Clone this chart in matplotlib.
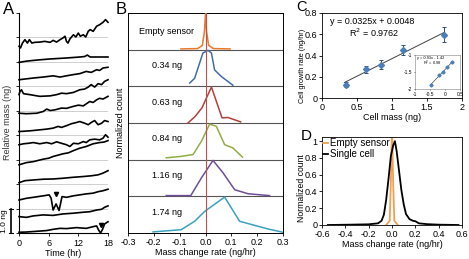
import numpy as np
import matplotlib
matplotlib.use("Agg")
import matplotlib.pyplot as plt
from matplotlib.ticker import FormatStrFormatter

plt.rcParams['font.family'] = ['Liberation Sans', 'DejaVu Sans']
plt.rcParams['axes.unicode_minus'] = False
plt.rcParams['font.size'] = 6.5

# ---------------- Panel A: mass traces (hr, ng) ----------------
trace_hr = [
    [0, 0.3, 0.7, 1.2, 1.7, 2.1, 2.6, 3.2, 4.2, 5.2, 6.3, 6.9, 7.6, 8.3, 8.9, 9.3, 9.6, 9.9, 10.3, 11.0, 11.5, 12.0, 12.4, 13.0, 13.5, 14.0, 14.4, 15.0, 15.7, 16.3, 17.0, 17.5, 18],
    [0, 1.5, 2.9, 4.5, 6.3, 8.0, 9.6, 11.0, 12.3, 13.3, 13.8, 14.4, 16.0, 18],
    [0, 2.9, 4.9, 6.9, 8.3, 9.6, 11.0, 12.3, 13.6, 14.6, 15.7, 16.3, 17.0, 18],
    [0, 0.2, 0.5, 0.9, 2.2, 4.2, 6.3, 7.6, 8.6, 9.6, 11.0, 12.3, 13.3, 14.0, 14.6, 15.3, 16.0, 16.7, 17.3, 18],
    [0, 1.5, 3.6, 4.9, 5.6, 6.3, 7.3, 8.6, 9.6, 11.0, 12.0, 13.0, 13.8, 14.3, 15.0, 15.7, 16.3, 17.0, 18],
    [0, 2.2, 4.2, 5.6, 6.9, 7.9, 8.6, 9.6, 10.6, 11.6, 12.3, 13.3, 14.0, 14.6, 15.3, 16.0, 16.7, 17.3, 18],
    [0, 0.9, 1.9, 2.9, 4.2, 5.6, 6.6, 7.6, 8.6, 9.6, 10.3, 11.0, 12.0, 13.0, 13.6, 14.3, 15.3, 16.3, 17.0, 17.5, 18],
    [0, 1.5, 2.9, 4.9, 6.0, 6.9, 8.9, 10.0, 11.0, 12.3, 13.6, 15.0, 16.3, 17.2, 18],
    [0, 1.2, 2.9, 4.9, 6.9, 8.9, 11.0, 13.0, 14.6, 16.0, 17.0, 18],
    [0, 1.5, 2.9, 4.9, 6.1, 6.5, 6.9, 7.5, 8.1, 8.7, 9.6, 11.0, 12.3, 13.6, 15.0, 16.0, 17.0, 18],
    [0, 1.5, 2.9, 4.9, 6.9, 8.9, 11.0, 13.0, 14.3, 15.7, 16.7, 17.3, 18],
    [0, 1.5, 3.6, 5.6, 6.9, 8.3, 9.6, 11.6, 13.6, 15.0, 15.7, 16.1, 16.5, 16.9, 17.3, 18],
]
trace_ng = [
    [7.64, 7.57, 7.77, 7.91, 7.77, 7.91, 7.77, 7.80, 7.81, 7.84, 7.80, 7.88, 7.81, 7.91, 7.98, 8.05, 7.84, 7.77, 7.94, 8.11, 8.02, 8.18, 8.05, 8.11, 8.02, 8.25, 8.32, 8.25, 8.46, 8.52, 8.62, 8.73, 8.62],
    [6.98, 7.03, 7.06, 7.09, 7.12, 7.14, 7.16, 7.18, 7.20, 7.22, 7.28, 7.20, 7.20, 7.20],
    [6.27, 6.34, 6.38, 6.43, 6.38, 6.43, 6.48, 6.52, 6.61, 6.57, 6.68, 6.65, 6.75, 6.78],
    [5.66, 5.79, 5.86, 5.70, 5.66, 5.59, 5.61, 5.66, 5.72, 5.70, 5.75, 5.86, 5.89, 5.97, 6.07, 5.97, 6.11, 6.07, 6.20, 6.27],
    [4.90, 4.88, 4.90, 4.97, 5.07, 5.01, 5.04, 5.11, 5.10, 5.18, 5.23, 5.20, 5.31, 5.38, 5.34, 5.45, 5.51, 5.48, 5.59],
    [4.15, 4.18, 4.22, 4.25, 4.29, 4.36, 4.32, 4.39, 4.47, 4.52, 4.56, 4.49, 4.43, 4.52, 4.60, 4.43, 4.49, 4.60, 4.56],
    [3.61, 3.65, 3.67, 3.70, 3.65, 3.70, 3.65, 3.73, 3.67, 3.61, 3.54, 3.67, 3.65, 3.74, 3.70, 3.81, 3.84, 3.81, 3.88, 4.02, 3.92],
    [2.79, 2.88, 2.92, 3.02, 3.06, 3.13, 3.24, 3.28, 3.37, 3.47, 3.54, 3.65, 3.70, 3.72, 3.78],
    [2.06, 2.14, 2.17, 2.20, 2.21, 2.24, 2.28, 2.31, 2.34, 2.38, 2.45, 2.55],
    [1.35, 1.42, 1.46, 1.52, 1.56, 1.42, 0.94, 1.19, 0.92, 1.49, 1.46, 1.52, 1.56, 1.60, 1.63, 1.69, 1.73, 1.79],
    [0.67, 0.64, 0.70, 0.74, 0.72, 0.78, 0.81, 0.85, 0.87, 0.94, 0.97, 1.05, 1.11],
    [0.03, 0.04, 0.07, 0.10, 0.15, 0.19, 0.18, 0.22, 0.19, 0.26, 0.29, 0.12, 0.00, 0.15, 0.37, 0.46],
]
arrow_hr = [7.5, 16.5]
arrow_ng = [1.60, 0.33]
time_ticks = [0, 6, 12, 18]

# ---------------- Panel B: histograms ----------------
b_labels = ["Empty sensor", "0.34 ng", "0.63 ng", "0.84 ng", "1.16 ng", "1.74 ng"]
b_colors = ["#E8782A", "#3F6EAA", "#B4403C", "#8FAE44", "#6E4E98", "#3AA2BC"]
b_rate = [
    [-0.095, -0.03, -0.012, -0.004, 0.0, 0.004, 0.012, 0.03, 0.095],
    [-0.061, -0.042, -0.010, 0.010, 0.023, 0.035, 0.061, 0.106],
    [-0.068, -0.040, -0.014, 0.023, 0.064, 0.087, 0.136],
    [-0.152, -0.094, -0.048, -0.016, 0.016, 0.042, 0.074, 0.106, 0.143],
    [-0.152, -0.057, -0.016, 0.029, 0.068, 0.113, 0.165, 0.248],
    [-0.203, -0.094, -0.042, -0.003, 0.074, 0.132, 0.184, 0.242, 0.300],
]
b_count = [
    [0.02, 0.03, 0.12, 0.5, 0.98, 0.5, 0.12, 0.03, 0.02],
    [0.09, 0.22, 0.91, 0.98, 0.91, 0.45, 0.27, 0.03],
    [0.0, 0.18, 0.41, 0.98, 0.14, 0.15, 0.03],
    [0.05, 0.09, 0.14, 0.5, 0.97, 0.91, 0.41, 0.32, 0.07],
    [0.02, 0.02, 0.5, 0.98, 0.64, 0.18, 0.07, 0.02],
    [0.03, 0.09, 0.32, 0.59, 0.98, 0.32, 0.22, 0.11, 0.02],
]

# ---------------- Panel C: growth rate vs mass ----------------
cell_mass = np.array([0.34, 0.63, 0.84, 1.16, 1.74])
growth_rate = np.array([0.125, 0.27, 0.315, 0.452, 0.595])
growth_err = np.array([0.025, 0.03, 0.045, 0.045, 0.07])
inset_logm = np.array([-0.47, -0.20, -0.08, 0.06, 0.24])
inset_logr = np.array([-1.88, -1.60, -1.50, -1.36, -1.22])

# ---------------- Panel D: distributions ----------------
d_empty_x = [-0.05, -0.02, -0.01, 0.0, 0.01, 0.02, 0.05]
d_empty_y = [0.0, 0.05, 0.5, 1.2, 0.5, 0.05, 0.0]
d_cell_x = [-0.55, -0.4, -0.2, -0.12, -0.09, -0.07, -0.05, -0.03, -0.01, 0.01, 0.025, 0.04, 0.06, 0.08, 0.10, 0.12, 0.15, 0.18, 0.20, 0.23, 0.30, 0.40, 0.57]
d_cell_y = [0.0, 0.003, 0.008, 0.02, 0.05, 0.12, 0.3, 0.55, 0.82, 0.95, 1.0, 0.88, 0.65, 0.42, 0.25, 0.13, 0.07, 0.05, 0.045, 0.02, 0.01, 0.004, 0.0]

W, H = 469, 259
fig = plt.figure(figsize=(W / 100, H / 100), dpi=100)


def box(l, t, r, b):
    return [l / W, (H - b) / H, (r - l) / W, (b - t) / H]


# ---- A ----
axA = fig.add_axes(box(19, 13, 108, 233))
for k in range(1, 9):
    axA.axhline(k, color="#c8c8c8", lw=0.6, zorder=0)
for t, m in zip(trace_hr, trace_ng):
    axA.plot(t, m, color="black", lw=1.2, clip_on=False, solid_joinstyle="round")
axA.plot(arrow_hr, arrow_ng, linestyle="none", marker="v", color="black", markersize=3)
axA.set_xlim(0, 18)
axA.set_ylim(0, 9)
axA.set_xticks(time_ticks)
axA.set_yticks(range(0, 10))
axA.set_yticklabels([])
axA.spines["top"].set_visible(False)
axA.spines["right"].set_visible(False)
axA.tick_params(length=2.5, width=0.6, pad=1.5, labelsize=6.5)
axA.set_xlabel("Time (hr)", labelpad=1, fontsize=6.5)
fig.text(8 / W, 1 - 122 / H, "Relative mass (ng)", rotation=90, ha="center", va="center", fontsize=6.5, color="#333333")
# scale bar 1.0 ng
fig.add_artist(plt.Line2D([11 / W, 11 / W], [1 - 209 / H, 1 - 233 / H], color="black", lw=1.2))
fig.add_artist(plt.Line2D([9 / W, 13 / W], [1 - 209 / H, 1 - 209 / H], color="black", lw=0.8))
fig.add_artist(plt.Line2D([9 / W, 13 / W], [1 - 233 / H, 1 - 233 / H], color="black", lw=0.8))
fig.text(5 / W, 1 - 221 / H, "1.0 ng", rotation=90, ha="center", va="center", fontsize=6)
fig.text(3 / W, 1 - 2 / H, "A", fontsize=12, va="top", ha="left")

# ---- B ----
axB = fig.add_axes(box(128, 13, 283, 233))
n = len(b_labels)
for i, (lab, col, xs, ys) in enumerate(zip(b_labels, b_colors, b_rate, b_count)):
    base = n - 1 - i
    axB.plot(xs, np.array(ys) + base, color=col, lw=1.1, zorder=3)
    axB.text(-0.15, base + (0.5 if i == 0 else 0.57), lab, ha="center", va="center", fontsize=6.5)
for k in range(1, n):
    axB.axhline(k, color="#555555", lw=0.8, zorder=2)
axB.axvline(0, color="#C0504D", lw=0.8, zorder=4)
axB.set_xlim(-0.3, 0.3)
axB.set_ylim(0, n)
axB.set_xticks(np.round(np.arange(-0.3, 0.31, 0.1), 1))
axB.xaxis.set_major_formatter(FormatStrFormatter("%.1f"))
axB.set_yticks([])
axB.tick_params(length=2, width=0.6, pad=1.5, labelsize=6.5)
for s in axB.spines.values():
    s.set_linewidth(0.7)
axB.set_xlabel("Mass change rate (ng/hr)", labelpad=1, fontsize=6.5)
axB.set_ylabel("Normalized count", labelpad=2, fontsize=6.5)
fig.text(116 / W, 1 - 2 / H, "B", fontsize=12, va="top", ha="left")

# ---- C ----
axC = fig.add_axes(box(322, 13, 462, 98))
slope, icpt = np.polyfit(cell_mass, growth_rate, 1)
xl = np.array([cell_mass.min() - 0.02, cell_mass.max() + 0.01])
axC.plot(xl, slope * xl + icpt, color="#404040", lw=0.7, zorder=2)
axC.errorbar(cell_mass, growth_rate, yerr=growth_err, fmt="D", color="#4A7EBB",
             markersize=3, ecolor="#2E4F7A", elinewidth=0.7, capsize=1.5, capthick=0.7, zorder=3)
axC.set_xlim(0, 2)
axC.set_ylim(0, 0.8)
axC.set_xticks([0, 0.5, 1, 1.5, 2])
axC.set_xticklabels(["0", "0.5", "1", "1.5", "2"])
axC.set_yticks([0, 0.2, 0.4, 0.6, 0.8])
axC.set_yticklabels(["0", "0.2", "0.4", "0.6", "0.8"])
axC.tick_params(length=2, width=0.6, pad=1.5, labelsize=6.5)
for s in axC.spines.values():
    s.set_linewidth(0.6)
axC.set_xlabel("Cell mass (ng)", labelpad=1, fontsize=6.5)
axC.set_ylabel("Cell growth rate (ng/hr)", labelpad=1.5, fontsize=5.2)
axC.yaxis.set_label_coords(-0.115, 0.38)
axC.text(0.12, 0.72, "y = 0.0325x + 0.0048", fontsize=6.5, va="center")
axC.text(0.38, 0.61, "R$^2$ = 0.9762", fontsize=6.5, va="center")
fig.text(296 / W, 1 - 0 / H, "C", fontsize=10.5, va="top", ha="left")

# inset
axI = fig.add_axes(box(415, 55, 460, 89))
s2, i2 = np.polyfit(inset_logm, inset_logr, 1)
xi = np.array([inset_logm.min(), inset_logm.max()])
axI.plot(xi, s2 * xi + i2, color="#404040", lw=0.5)
axI.plot(inset_logm, inset_logr, "D", color="#4A7EBB", markersize=1.6)
axI.set_xlim(-1, 0.5)
axI.set_ylim(-2, -1)
axI.set_xticks([-1, -0.5, 0, 0.5])
axI.set_xticklabels(["-1", "-0.5", "0", "0.5"])
axI.set_yticks([-2, -1.5, -1])
axI.set_yticklabels(["-2", "-1.5", "-1"])
axI.tick_params(length=1, width=0.4, pad=1, labelsize=3.5)
for s in axI.spines.values():
    s.set_linewidth(0.4)
    s.set_color("#808080")
axI.text(-0.95, -1.08, "y = 0.93x - 1.42", fontsize=2.8, va="center")
axI.text(-0.75, -1.26, "R$^2$ = 0.98", fontsize=2.8, va="center")

# ---- D ----
axD = fig.add_axes(box(322, 137, 462, 225))
axD.plot(d_empty_x, d_empty_y, color="#F0A050", lw=1.3, label="Empty sensor")
axD.plot(d_cell_x, d_cell_y, color="black", lw=1.3, label="Single cell")
axD.set_xlim(-0.6, 0.6)
axD.set_ylim(0, 1.05)
axD.set_xticks(np.round(np.arange(-0.6, 0.61, 0.2), 1))
axD.xaxis.set_major_formatter(FormatStrFormatter("%.1f"))
axD.set_yticks([0, 0.2, 0.4, 0.6, 0.8, 1.0])
axD.set_yticklabels(["0", "0.2", "0.4", "0.6", "0.8", "1"])
axD.tick_params(length=2, width=0.6, pad=1.5, labelsize=6.5)
for s in axD.spines.values():
    s.set_linewidth(0.6)
axD.set_xlabel("Mass change rate (ng/hr)", labelpad=1, fontsize=6.5)
axD.set_ylabel("Normalized count", labelpad=2, fontsize=6.2)
axD.yaxis.set_label_coords(-0.115, 0.42)
leg = axD.legend(loc="upper left", frameon=False, fontsize=7, handlelength=0.5,
                 handletextpad=0.2, borderaxespad=0.05, labelspacing=0.05, borderpad=0.1)
fig.text(301 / W, 1 - 129 / H, "D", fontsize=11, va="top", ha="left")

fig.savefig("out.png", dpi=100)
